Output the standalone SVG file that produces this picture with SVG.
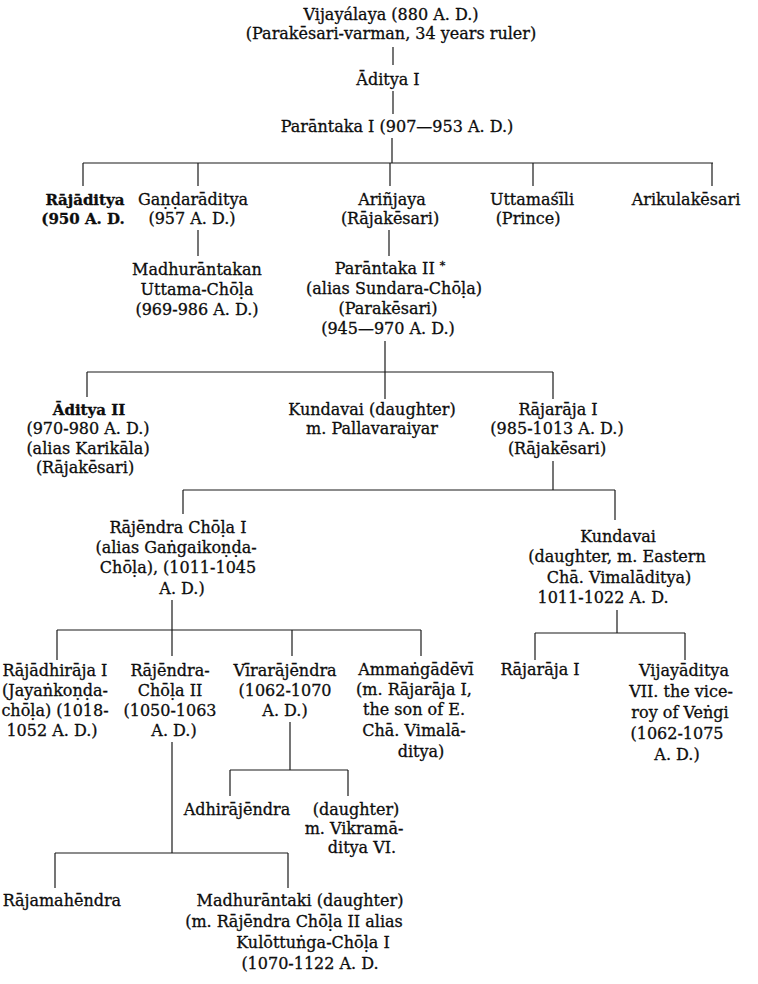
<svg xmlns="http://www.w3.org/2000/svg" width="758" height="984" viewBox="0 0 758 984">
<style>
.t { font-family: "DejaVu Serif", "Liberation Serif", serif; font-size: 16px; fill: #0d0d0d; stroke: #0d0d0d; stroke-width: 0.3; text-anchor: middle; }
.b { font-weight: bold; font-size: 15px; }
.c line { stroke: #1a1a1a; stroke-width: 1.2; fill: none; }
</style>
<rect width="758" height="984" fill="#ffffff"/>
<g id="connectors" class="c">
<line x1="393" y1="47" x2="393" y2="65"/>
<line x1="393" y1="91" x2="393" y2="114"/>
<line x1="392" y1="138" x2="392" y2="163"/>
<line x1="83" y1="163" x2="713" y2="163"/>
<line x1="83" y1="163" x2="83" y2="186"/>
<line x1="198" y1="163" x2="198" y2="186"/>
<line x1="390" y1="163" x2="390" y2="186"/>
<line x1="533" y1="163" x2="533" y2="186"/>
<line x1="712" y1="163" x2="712" y2="186"/>
<line x1="198" y1="230" x2="198" y2="256"/>
<line x1="389" y1="230" x2="389" y2="256"/>
<line x1="385" y1="341" x2="385" y2="372"/>
<line x1="87" y1="372" x2="553" y2="372"/>
<line x1="87" y1="372" x2="87" y2="397"/>
<line x1="385" y1="372" x2="385" y2="399"/>
<line x1="553" y1="372" x2="553" y2="399"/>
<line x1="553" y1="461" x2="553" y2="490"/>
<line x1="183" y1="490" x2="615" y2="490"/>
<line x1="183" y1="490" x2="183" y2="514"/>
<line x1="615" y1="490" x2="615" y2="520"/>
<line x1="172" y1="600" x2="172" y2="630"/>
<line x1="57" y1="630" x2="421" y2="630"/>
<line x1="57" y1="630" x2="57" y2="660"/>
<line x1="172" y1="630" x2="172" y2="656"/>
<line x1="292" y1="630" x2="292" y2="656"/>
<line x1="421" y1="630" x2="421" y2="656"/>
<line x1="617" y1="610" x2="617" y2="633"/>
<line x1="535" y1="633" x2="685" y2="633"/>
<line x1="535" y1="633" x2="535" y2="660"/>
<line x1="685" y1="633" x2="685" y2="660"/>
<line x1="290" y1="722" x2="290" y2="770"/>
<line x1="230" y1="770" x2="348" y2="770"/>
<line x1="230" y1="770" x2="230" y2="796"/>
<line x1="348" y1="770" x2="348" y2="796"/>
<line x1="172" y1="742" x2="172" y2="853"/>
<line x1="55" y1="853" x2="288" y2="853"/>
<line x1="55" y1="853" x2="55" y2="888"/>
<line x1="288" y1="853" x2="288" y2="888"/>
</g>
<g id="vijayalaya" class="t">
<text x="391" y="20">Vijayálaya (880 A. D.)</text>
<text x="391" y="39">(Parakēsari-varman, 34 years ruler)</text>
</g>
<g id="aditya1" class="t"><text x="388" y="85">Āditya  I</text></g>
<g id="parantaka1" class="t"><text x="397" y="132">Parāntaka I (907—953 A. D.)</text></g>
<g id="rajaditya" class="t b">
<text x="85" y="205">Rājāditya</text>
<text x="83" y="224">(950 A. D.</text>
</g>
<g id="gandaraditya" class="t">
<text x="193" y="205">Gaṇḍarāditya</text>
<text x="192" y="224">(957 A. D.)</text>
</g>
<g id="arinjaya" class="t">
<text x="392" y="205">Ariñjaya</text>
<text x="390" y="224">(Rājakēsari)</text>
</g>
<g id="uttamasili" class="t">
<text x="532" y="205">Uttamaśīli</text>
<text x="528" y="224">(Prince)</text>
</g>
<g id="arikulakesari" class="t"><text x="686" y="205">Arikulakēsari</text></g>
<g id="madhurantakan" class="t">
<text x="197" y="275">Madhurāntakan</text>
<text x="197" y="295">Uttama-Chōḷa</text>
<text x="197" y="315">(969-986 A. D.)</text>
</g>
<g id="parantaka2" class="t">
<text x="390" y="274">Parāntaka II <tspan font-size="11" dy="-5">*</tspan></text>
<text x="394" y="294">(alias Sundara-Chōḷa)</text>
<text x="388" y="314">(Parakēsari)</text>
<text x="388" y="334">(945—970 A. D.)</text>
</g>
<g id="aditya2" class="t">
<text x="89" y="415" font-weight="bold" font-size="15">Āditya  II</text>
<text x="88" y="434">(970-980 A. D.)</text>
<text x="88" y="454">(alias Karikāla)</text>
<text x="85" y="473">(Rājakēsari)</text>
</g>
<g id="kundavai1" class="t">
<text x="372" y="415">Kundavai (daughter)</text>
<text x="372" y="434">m. Pallavaraiyar</text>
</g>
<g id="rajaraja1" class="t">
<text x="558" y="415">Rājarāja  I</text>
<text x="557" y="434">(985-1013 A. D.)</text>
<text x="557" y="454">(Rājakēsari)</text>
</g>
<g id="rajendra1" class="t">
<text x="178" y="533">Rājēndra Chōḷa I</text>
<text x="176" y="553">(alias Gaṅgaikoṇḍa-</text>
<text x="178" y="573">Chōḷa), (1011-1045</text>
<text x="182" y="594">A. D.)</text>
</g>
<g id="kundavai2" class="t">
<text x="618" y="542">Kundavai</text>
<text x="617" y="562">(daughter, m. Eastern</text>
<text x="619" y="583">Chā. Vimalāditya)</text>
<text x="603" y="603">1011-1022 A. D.</text>
</g>
<g id="rajadhiraja" class="t">
<text x="55" y="676">Rājādhirāja I</text>
<text x="55" y="696">(Jayaṅkoṇḍa-</text>
<text x="55" y="716">chōḷa) (1018-</text>
<text x="52" y="736">1052 A. D.)</text>
</g>
<g id="rajendra2" class="t">
<text x="170" y="676">Rājēndra-</text>
<text x="170" y="696">Chōḷa II</text>
<text x="170" y="716">(1050-1063</text>
<text x="174" y="736">A. D.)</text>
</g>
<g id="virarajendra" class="t">
<text x="285" y="676">Vīrarājēndra</text>
<text x="285" y="696">(1062-1070</text>
<text x="285" y="716">A. D.)</text>
</g>
<g id="ammangadevi" class="t">
<text x="416" y="675">Ammaṅgādēvī</text>
<text x="414" y="695">(m. Rājarāja I,</text>
<text x="414" y="715">the son of E.</text>
<text x="414" y="736">Chā. Vimalā-</text>
<text x="421" y="757">ditya)</text>
</g>
<g id="rajaraja1b" class="t"><text x="540" y="675">Rājarāja  I</text></g>
<g id="vijayaditya7" class="t">
<text x="684" y="676">Vijayāditya</text>
<text x="681" y="697">VII. the vice-</text>
<text x="680" y="718">roy of Veṅgi</text>
<text x="677" y="739">(1062-1075</text>
<text x="677" y="760">A. D.)</text>
</g>
<g id="adhirajendra" class="t"><text x="237" y="815">Adhirājēndra</text></g>
<g id="daughter3" class="t">
<text x="356" y="815">(daughter)</text>
<text x="354" y="834">m. Vikramā-</text>
<text x="362" y="853">ditya VI.</text>
</g>
<g id="rajamahendra" class="t"><text x="62" y="906">Rājamahēndra</text></g>
<g id="madhurantaki" class="t">
<text x="300" y="906">Madhurāntaki (daughter)</text>
<text x="294" y="927">(m. Rājēndra Chōḷa II alias</text>
<text x="313" y="948">Kulōttuṅga-Chōḷa I</text>
<text x="310" y="969">(1070-1122 A. D.</text>
</g>
</svg>
